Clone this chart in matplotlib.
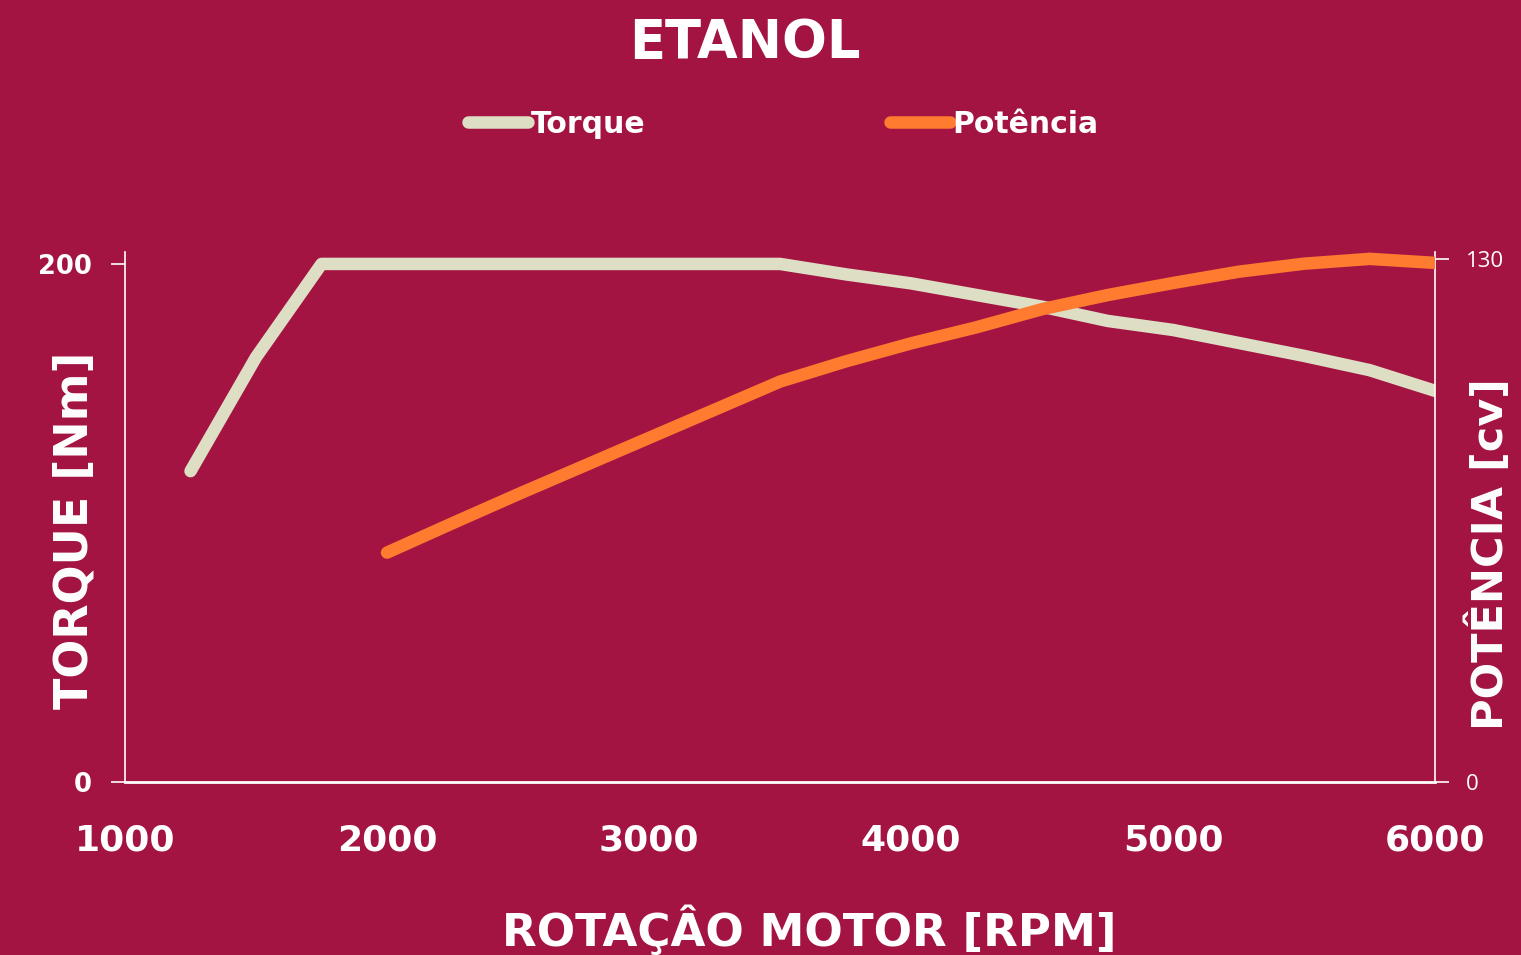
import matplotlib
matplotlib.use("Agg")
import matplotlib.pyplot as plt

# Data
rpm_torque = [1250, 1500, 1750, 2000, 2250, 2500, 2750, 3000, 3250, 3500, 3750, 4000,
              4250, 4500, 4750, 5000, 5250, 5500, 5750, 6000]
torque = [120, 164, 200, 200, 200, 200, 200, 200, 200, 200, 196, 192.5,
          188, 183.5, 178, 174.5, 169.5, 164.5, 159, 151]
rpm_power = [2000, 2250, 2500, 2750, 3000, 3250, 3500, 3750, 4000, 4250, 4500, 4750,
             5000, 5250, 5500, 5750, 6000]
power = [57, 64.3, 71.5, 78.5, 85.5, 92.5, 99.5, 104.5, 109, 113, 117.5, 121,
         124, 126.8, 128.8, 130, 129]
x_ticks = [1000, 2000, 3000, 4000, 5000, 6000]
left_ticks = [0, 200]
right_ticks = [0, 130]

BG = "#A31442"
C_TORQUE = "#DDDEC4"
C_POWER = "#FE7B30"
FONT = "DejaVu Sans"
FONT_R = "Open Sans"

fig = plt.figure(figsize=(15.21, 9.55), dpi=100, facecolor=BG)
ax = fig.add_axes([0.0822, 0.1812, 0.8613, 0.5549])
ax.set_facecolor(BG)
ax2 = ax.twinx()

l1, = ax.plot(rpm_torque, torque, color=C_TORQUE, lw=9, solid_capstyle="round",
              solid_joinstyle="round", label="Torque", zorder=3)
l2, = ax2.plot(rpm_power, power, color=C_POWER, lw=9, solid_capstyle="round",
               solid_joinstyle="round", label="Potência", zorder=3)

ax.set_xlim(1000, 6000)
ax.set_ylim(0, 204.6)
ax2.set_ylim(0, 131.7)

for a in (ax, ax2):
    a.spines["top"].set_visible(False)
    for s in ("left", "right", "bottom"):
        a.spines[s].set_color("white")
    a.spines["left"].set_linewidth(1.2)
    a.spines["right"].set_linewidth(1.2)
    a.spines["bottom"].set_linewidth(2)
ax.spines["right"].set_visible(False)
ax2.spines["left"].set_visible(False)
ax2.spines["bottom"].set_visible(False)

ax.set_xticks(x_ticks)
ax.set_xticklabels([str(v) for v in x_ticks], fontsize=26, fontweight="bold",
                   color="white", family=FONT)
ax.tick_params(axis="x", length=0, pad=30)

ax.set_yticks(left_ticks)
ax.set_yticklabels([str(v) for v in left_ticks], fontsize=18.5, fontweight="bold",
                   color="white", family=FONT)
ax.tick_params(axis="y", length=10, width=1.2, color="white", pad=14, direction="out")

ax2.set_yticks(right_ticks)
ax2.set_yticklabels([str(v) for v in right_ticks], fontsize=16, color="white", family=FONT_R)
ax2.tick_params(axis="y", length=10, width=1.2, color="white", pad=12, direction="out")

fig.text(0.49, 0.955, "ETANOL", fontsize=38, fontweight="bold", color="white",
         family=FONT, ha="center", va="center")
fig.text(0.532, 0.026, "ROTAÇÂO MOTOR [RPM]", fontsize=32.5, fontweight="bold",
         color="white", family=FONT, ha="center", va="center")
fig.text(0.049, 0.445, "TORQUE [Nm]", fontsize=33, fontweight="bold", color="white",
         family=FONT, ha="center", va="center", rotation=90)
fig.text(0.979, 0.42, "POTÊNCIA [cv]", fontsize=31, fontweight="bold", color="white",
         family=FONT, ha="center", va="center", rotation=90)

leg = fig.legend(handles=[l1, l2], loc="center", bbox_to_anchor=(0.515, 0.87), ncol=2,
                 frameon=False, handlelength=2.0, handletextpad=0.1, columnspacing=8.2,
                 prop={"family": FONT, "weight": "bold", "size": 21.5})
for t in leg.get_texts():
    t.set_color("white")

fig.savefig("out.png", dpi=100, facecolor=BG)
